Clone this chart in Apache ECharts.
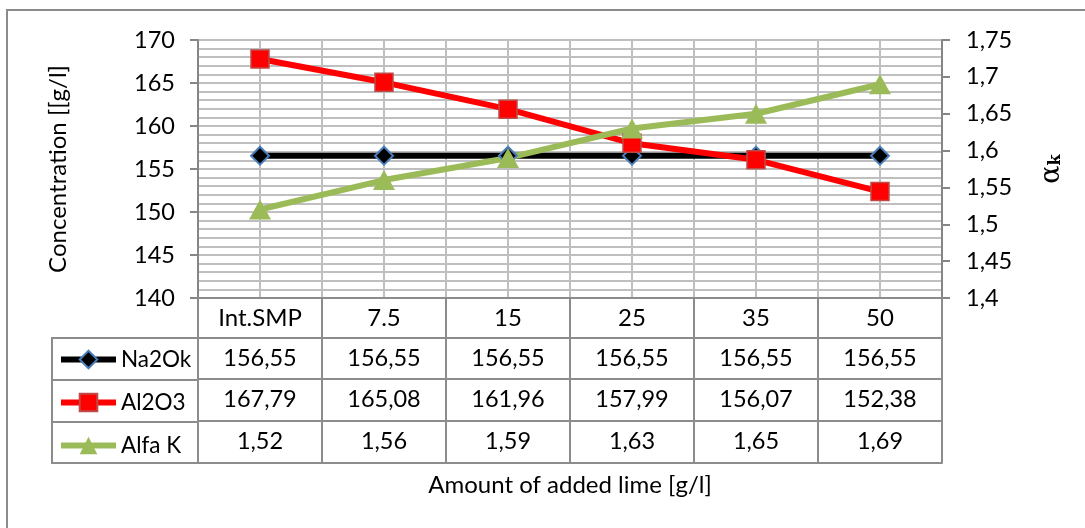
<!DOCTYPE html>
<html><head><meta charset="utf-8">
<script src="https://cdn.jsdelivr.net/npm/echarts@6/dist/echarts.min.js"></script>
<style>html,body{margin:0;padding:0;background:#fff}#c{width:1085px;height:528px}</style>
</head><body><div id="c"></div>
<script>
// ---- data ----
const categories = ['Int.SMP', '7.5', '15', '25', '35', '50'];
const na2ok = [156.55, 156.55, 156.55, 156.55, 156.55, 156.55];
const al2o3 = [167.79, 165.08, 161.96, 157.99, 156.07, 152.38];
const alfaK = [1.52, 1.56, 1.59, 1.63, 1.65, 1.69];
const seriesNames = ['Na2Ok', 'Al2O3', 'Alfa K'];
const leftTicks = { min: 140, max: 170, interval: 5 };
const rightTicks = { min: 1.4, max: 1.75, interval: 0.05 };

// ---- styling ----
const FONT = 'Lato';
const AXIS = '#868686';
const GRID = '#bfbfbf';
const TABLE = '#8c8c8c';
const comma = v => v.toFixed(2).replace('.', ',');
const shortComma = v => String(+(+v).toFixed(2)).replace('.', ',');
const num = { color: '#000', fontSize: 23.5, fontFamily: FONT };
const txt = { color: '#000', fontSize: 24, fontFamily: FONT };

function tableAxis(offset, tickLen, formatter, extra) {
  return Object.assign({
    type: 'category', gridIndex: 0, position: 'bottom', offset: offset,
    data: categories, boundaryGap: true,
    axisLine: { show: true, onZero: false, lineStyle: { color: TABLE, width: 2 } },
    axisTick: { show: tickLen > 0, length: tickLen, inside: false, interval: 0, lineStyle: { color: TABLE, width: 2 } },
    axisLabel: Object.assign({ show: !!formatter, interval: 0, margin: 8, formatter: formatter || undefined }, num),
    splitLine: { show: false }
  }, extra || {});
}

const chart = echarts.init(document.getElementById('c'), null, { renderer: 'canvas' });
chart.setOption({
  animation: false,
  backgroundColor: '#fff',
  graphic: [{
    type: 'rect', silent: true, z: -10,
    shape: { x: 7, y: 10, width: 1200, height: 700 },
    style: { fill: 'none', stroke: TABLE, lineWidth: 2 }
  }],
  grid: [
    { left: 198, right: 143, top: 40, bottom: 230, containLabel: false, outerBoundsMode: 'none' },
    { left: 52, top: 338, width: 146, height: 125, show: true, borderColor: TABLE, borderWidth: 2,
      backgroundColor: 'transparent', containLabel: false, outerBoundsMode: 'none' }
  ],
  legend: {
    orient: 'vertical', left: 58, top: 348, padding: 0,
    itemWidth: 55, itemHeight: 22, itemGap: 20, selectedMode: false,
    data: seriesNames,
    lineStyle: { width: 6 },
    textStyle: { color: '#000', fontSize: 22.5, fontFamily: FONT, lineHeight: 22 }
  },
  xAxis: [
    tableAxis(0, 40, v => v, { axisLabel: Object.assign({ interval: 0, margin: 8 }, txt) }),
    tableAxis(40, 41, (v, i) => comma(na2ok[i])),
    tableAxis(81, 42, (v, i) => comma(al2o3[i])),
    tableAxis(123, 42, (v, i) => comma(alfaK[i])),
    tableAxis(165, 0, null, {
      name: 'Amount of added lime [g/l]', nameLocation: 'middle', nameGap: 10,
      nameMoveOverlap: false, nameTextStyle: txt
    }),
    {
      type: 'value', gridIndex: 0, position: 'top', min: 0, max: 12, interval: 1,
      axisLine: { show: false }, axisTick: { show: false }, axisLabel: { show: false },
      splitLine: { show: true, lineStyle: { color: GRID, width: 2 } }
    },
    { type: 'category', gridIndex: 1, show: false, data: [''] }
  ],
  yAxis: [
    {
      type: 'value', gridIndex: 0, position: 'left',
      min: leftTicks.min, max: leftTicks.max, interval: leftTicks.interval,
      name: 'Concentration [[g/l]', nameLocation: 'middle', nameGap: 128, nameMoveOverlap: false,
      nameTextStyle: txt,
      axisLine: { show: true, lineStyle: { color: AXIS, width: 2 } },
      axisTick: { show: true, length: 8, lineStyle: { color: AXIS, width: 2 } },
      axisLabel: Object.assign({ margin: 23 }, num),
      splitLine: { show: true, lineStyle: { color: GRID, width: 2 } },
      minorTick: { show: false, splitNumber: 5 },
      minorSplitLine: { show: true, lineStyle: { color: GRID, width: 2 } }
    },
    {
      type: 'value', gridIndex: 0, position: 'right',
      min: rightTicks.min, max: rightTicks.max, interval: rightTicks.interval,
      name: '{a|α}{k|k}', nameLocation: 'middle', nameGap: 96, nameMoveOverlap: false,
      nameTextStyle: {
        rich: {
          a: { fontFamily: 'DejaVu Serif', fontSize: 27, color: '#000' },
          k: { fontFamily: 'DejaVu Serif', fontSize: 16, fontWeight: 'bold', color: '#000', padding: [9, 0, 0, 0] }
        }
      },
      axisLine: { show: true, lineStyle: { color: AXIS, width: 2 } },
      axisTick: { show: true, length: 8, lineStyle: { color: AXIS, width: 2 } },
      axisLabel: Object.assign({ margin: 24, formatter: shortComma }, num),
      splitLine: { show: false }
    },
    {
      type: 'category', gridIndex: 1, data: seriesNames, inverse: true,
      axisLine: { show: false }, axisTick: { show: false }, axisLabel: { show: false },
      splitLine: { show: true, interval: 0, lineStyle: { color: TABLE, width: 2 } }
    }
  ],
  series: [
    {
      name: seriesNames[0], type: 'line', xAxisIndex: 0, yAxisIndex: 0, data: na2ok,
      symbol: 'diamond', symbolSize: 18,
      lineStyle: { color: '#000', width: 6 },
      itemStyle: { color: '#000', borderColor: '#4a7ebb', borderWidth: 2 }
    },
    {
      name: seriesNames[1], type: 'line', xAxisIndex: 0, yAxisIndex: 0, data: al2o3,
      symbol: 'rect', symbolSize: 18,
      lineStyle: { color: '#ff0000', width: 6 },
      itemStyle: { color: '#ff0000', borderColor: '#be4b48', borderWidth: 1.5 }
    },
    {
      name: seriesNames[2], type: 'line', xAxisIndex: 0, yAxisIndex: 1, data: alfaK,
      symbol: 'triangle', symbolSize: [22, 20],
      lineStyle: { color: '#9bbb59', width: 6 },
      itemStyle: { color: '#9bbb59' }
    }
  ]
});
</script>
</body></html>
